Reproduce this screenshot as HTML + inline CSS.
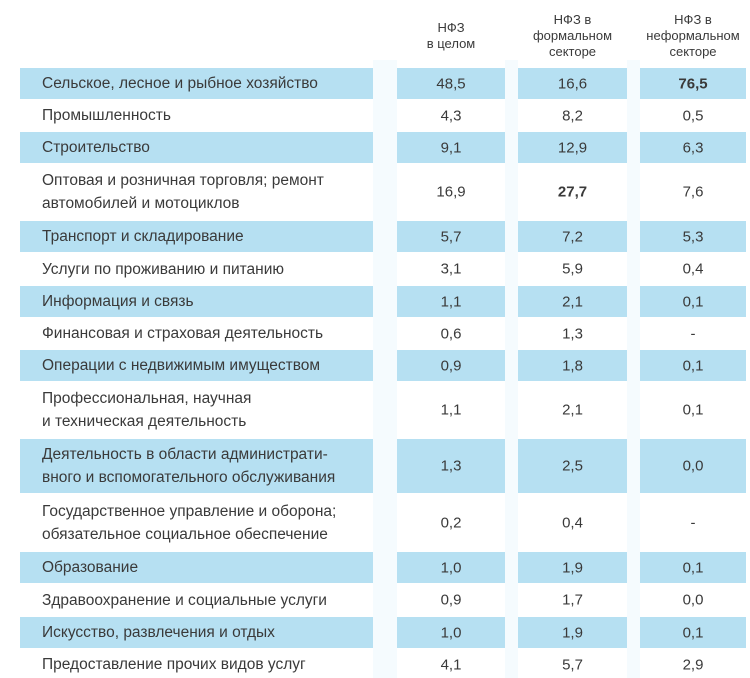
<!DOCTYPE html>
<html><head><meta charset="utf-8"><style>
body{margin:0;width:750px;height:678px;background:#fff;overflow:hidden;font-family:"Liberation Sans",sans-serif;color:#3a3a3a;position:relative}
.b{position:absolute;background:#b6e0f2}
.t{position:absolute;font-size:15.5px;line-height:23px;white-space:nowrap}
.n{position:absolute;font-size:15px;text-align:center;transform:translateY(-50%)}
.h{position:absolute;font-size:13px;line-height:16px;text-align:center;top:0}
.g{position:absolute;top:60px;height:618px;background:#f5fbfe}
</style></head><body>
<div class="g" style="left:373px;width:24px"></div>
<div class="g" style="left:505px;width:13px"></div>
<div class="g" style="left:627px;width:13px"></div>
<div class="h" style="left:397px;width:108px;top:20px">НФЗ<br>в целом</div>
<div class="h" style="left:518px;width:109px;top:12px">НФЗ в<br>формальном<br>секторе</div>
<div class="h" style="left:640px;width:106px;top:12px">НФЗ в<br>неформальном<br>секторе</div>

<div id="rows"></div>
<script>
var R=[
[67,100,1,["Сельское, лесное и рыбное хозяйство"],"48,5","16,6","<b>76,5</b>"],
[100,131,0,["Промышленность"],"4,3","8,2","0,5"],
[131,164,1,["Строительство"],"9,1","12,9","6,3"],
[164,220,0,["Оптовая и розничная торговля; ремонт","автомобилей и мотоциклов"],"16,9","<b>27,7</b>","7,6"],
[220,253,1,["Транспорт и складирование"],"5,7","7,2","5,3"],
[253,285,0,["Услуги по проживанию и питанию"],"3,1","5,9","0,4"],
[285,318,1,["Информация и связь"],"1,1","2,1","0,1"],
[318,349,0,["Финансовая и страховая деятельность"],"0,6","1,3","-"],
[349,382,1,["Операции с недвижимым имуществом"],"0,9","1,8","0,1"],
[382,438,0,["Профессиональная, научная","и техническая деятельность"],"1,1","2,1","0,1"],
[438,494,1,["Деятельность в области администрати-","вного и вспомогательного обслуживания"],"1,3","2,5","0,0"],
[494,551,0,["Государственное управление и оборона;","обязательное социальное обеспечение"],"0,2","0,4","-"],
[551,584,1,["Образование"],"1,0","1,9","0,1"],
[584,616,0,["Здравоохранение и социальные услуги"],"0,9","1,7","0,0"],
[616,649,1,["Искусство, развлечения и отдых"],"1,0","1,9","0,1"],
[649,680,0,["Предоставление прочих видов услуг"],"4,1","5,7","2,9"]];
var cols=[[397,108],[518,109],[640,106]],h="";
R.forEach(function(r){var y0=r[0]+1,y1=r[1]-1,m=(r[0]+r[1])/2;
if(r[2]){h+='<div class="b" style="left:20px;width:353px;top:'+y0+'px;height:'+(y1-y0)+'px"></div>';
cols.forEach(function(c){h+='<div class="b" style="left:'+c[0]+'px;width:'+c[1]+'px;top:'+y0+'px;height:'+(y1-y0)+'px"></div>';});}
var th=r[3].length*23;h+='<div class="t" style="left:42px;top:'+(m-th/2)+'px">'+r[3].join('<br>')+'</div>';
for(var i=0;i<3;i++)h+='<div class="n" style="left:'+cols[i][0]+'px;width:'+cols[i][1]+'px;top:'+m+'px">'+r[4+i]+'</div>';});
document.getElementById('rows').innerHTML=h;
</script>
</body></html>
